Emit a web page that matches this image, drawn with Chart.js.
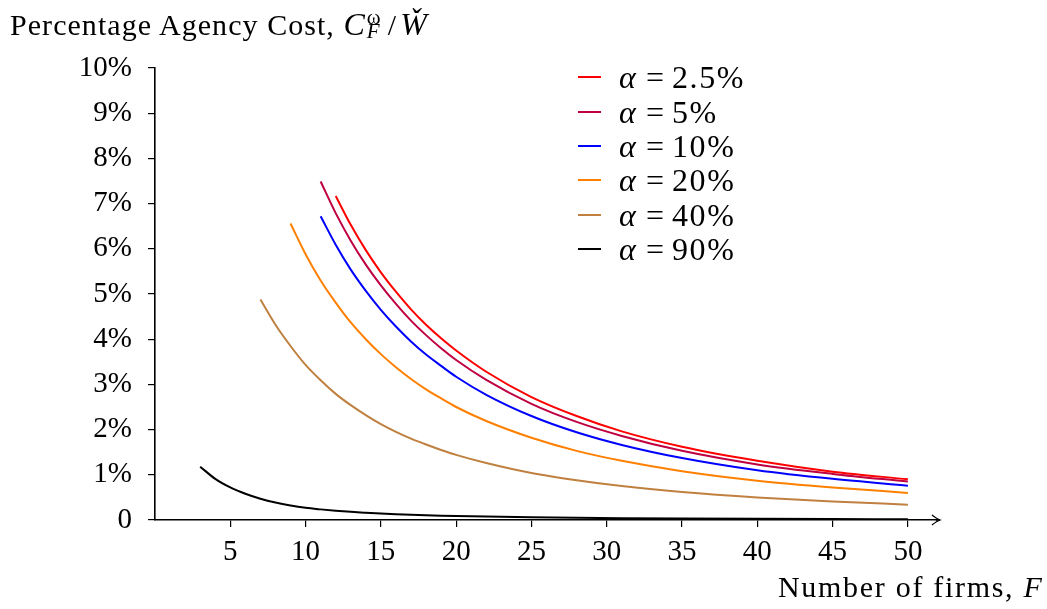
<!DOCTYPE html>
<html>
<head>
<meta charset="utf-8">
<script src="https://cdn.jsdelivr.net/npm/chart.js@4.4.1/dist/chart.umd.min.js"></script>
<style>
    body { margin: 0; background: #fff; }
    #wrap { position: relative; width: 1047px; height: 609px; font-family: "Liberation Serif", serif; color: #000; }
    #chart { position: absolute; left: 0; top: 0; }
    .txt { position: absolute; font-size: 30px; white-space: nowrap; line-height: 1; }
    .ss { display: inline-block; position: relative; width: 20px; height: 1px; }
    .ss span { position: absolute; left: 1px; font-size: 21px; line-height: 1; letter-spacing: 0; }
    .m { font-size: 32px; }
    #legend { position: absolute; left: 578px; top: 60px; }
    .row { height: 34.4px; display: flex; align-items: center; font-size: 32px; line-height: 1; }
    .swatch { width: 23px; height: 2px; margin-right: 18px; }
    .sym { display: inline-block; width: 27px; }
    .eq { display: inline-block; width: 26px; }
    .val { letter-spacing: 1.6px; }
</style>
</head>
<body>
<div id="wrap">
    <canvas id="chart" width="1047" height="609"></canvas>
    <div class="txt" id="yTitle" style="left:10px; top:8px; letter-spacing:1.05px;">Percentage Agency Cost, <i class="m">C</i><span class="ss"><span style="top:-27px">ω</span><span style="top:-13px"><i>F</i></span></span><span style="margin-left:2px">/</span><i class="m" style="margin-left:3px">W̌</i></div>
    <div class="txt" id="xTitle" style="left:778px; top:572px; letter-spacing:1.7px;">Number of firms, <i>F</i></div>
    <div id="legend"></div>
</div>
<script>
const xTicks = [5, 10, 15, 20, 25, 30, 35, 40, 45, 50];
const yTicks = [0, 1, 2, 3, 4, 5, 6, 7, 8, 9, 10];

// number of firms F (x values shared by all curves)
const firms = [3, 4, 5, 6, 7, 8, 9, 10, 11, 12, 13, 14, 15, 16, 17, 18, 19, 20, 22, 25, 28, 31, 35, 40, 45, 50];

// agency cost in % for each alpha, null where the curve is not drawn
const cost25 = [null, null, null, null, null, null, null, null, null,
    7.17, 6.53, 5.97, 5.48, 5.05, 4.66, 4.32, 4.02, 3.75, 3.28, 2.72, 2.30, 1.96, 1.62, 1.31, 1.07, 0.90];
const cost5 = [null, null, null, null, null, null, null, null,
    7.49, 6.79, 6.18, 5.65, 5.19, 4.78, 4.41, 4.09, 3.80, 3.54, 3.10, 2.57, 2.17, 1.86, 1.53, 1.23, 1.02, 0.85];
const cost10 = [null, null, null, null, null, null, null, null,
    6.72, 6.09, 5.54, 5.07, 4.65, 4.28, 3.95, 3.66, 3.41, 3.17, 2.77, 2.30, 1.94, 1.66, 1.37, 1.10, 0.91, 0.76];
const cost20 = [null, null, null, null, null, null,
    6.56, 5.88, 5.30, 4.81, 4.37, 4.00, 3.67, 3.38, 3.12, 2.89, 2.69, 2.50, 2.19, 1.82, 1.53, 1.31, 1.08, 0.87, 0.72, 0.60];
const cost40 = [null, null, null, null,
    4.88, 4.32, 3.85, 3.43, 3.09, 2.79, 2.54, 2.32, 2.12, 1.95, 1.80, 1.67, 1.55, 1.44, 1.26, 1.04, 0.88, 0.75, 0.62, 0.50, 0.41, 0.34];
const cost90 = [1.18, 0.91, 0.72, 0.58, 0.47, 0.385, 0.32, 0.27, 0.235, 0.205, 0.18, 0.16, 0.142, 0.128, 0.116, 0.105,
    0.096, 0.088, 0.075, 0.06, 0.049, 0.041, 0.033, 0.026, 0.021, 0.017];

const seriesLabels = ['2.5%', '5%', '10%', '20%', '40%', '90%'];
const seriesColors = ['#ff0000', '#bf0040', '#0000ff', '#ff8000', '#bf8040', '#000000'];
const seriesCost = [cost25, cost5, cost10, cost20, cost40, cost90];

const font = { family: '"Liberation Serif", serif', size: 29 };

// legend as html rows
const legend = document.getElementById('legend');
seriesLabels.forEach((lbl, i) => {
    const row = document.createElement('div');
    row.className = 'row';
    row.innerHTML = `<span class="swatch" style="background:${seriesColors[i]}"></span>` +
        `<span class="sym"><i>α</i></span><span class="eq">=</span><span class="val">${lbl}</span>`;
    legend.appendChild(row);
});

// arrow head at the end of the x axis
const axisArrow = {
    id: 'axisArrow',
    afterDraw(chart) {
        const ctx = chart.ctx;
        const x = chart.scales.x;
        const y0 = chart.chartArea.bottom;
        const tip = x.right + 2;
        ctx.save();
        ctx.strokeStyle = '#000';
        ctx.lineWidth = 1.6;
        ctx.beginPath();
        ctx.moveTo(x.right - 2, y0);
        ctx.lineTo(tip, y0);
        ctx.stroke();
        ctx.lineWidth = 1.3;
        ctx.beginPath();
        ctx.moveTo(tip - 8, y0 - 5);
        ctx.quadraticCurveTo(tip - 3, y0 - 1, tip, y0);
        ctx.quadraticCurveTo(tip - 3, y0 + 1, tip - 8, y0 + 5);
        ctx.stroke();
        ctx.restore();
    }
};

new Chart(document.getElementById('chart'), {
    type: 'line',
    data: {
        datasets: seriesLabels.map((lbl, i) => ({
            label: lbl,
            data: firms.map((f, j) => ({ x: f, y: seriesCost[i][j] })),
            borderColor: seriesColors[i],
            borderWidth: 2,
            pointRadius: 0,
            cubicInterpolationMode: 'monotone',
            spanGaps: false,
            fill: false
        }))
    },
    options: {
        responsive: false,
        animation: false,
        layout: { padding: { top: 68, right: 109, bottom: 0, left: 0 } },
        plugins: { legend: { display: false }, tooltip: { enabled: false } },
        scales: {
            x: {
                type: 'linear',
                min: 0,
                max: 52,
                afterFit(scale) { scale.height = 89; },
                afterBuildTicks(scale) { scale.ticks = xTicks.map(v => ({ value: v })); },
                border: { color: '#000', width: 1.6 },
                grid: { drawOnChartArea: false, drawTicks: true, tickLength: 7, color: '#000', lineWidth: 1.2 },
                ticks: { font: font, color: '#000', padding: 8, maxRotation: 0, callback: v => String(v) }
            },
            y: {
                type: 'linear',
                min: 0,
                max: 10,
                afterFit(scale) { scale.width = 155; },
                afterBuildTicks(scale) { scale.ticks = yTicks.map(v => ({ value: v })); },
                border: { color: '#000', width: 1.6 },
                grid: { drawOnChartArea: false, drawTicks: true, tickLength: 7, color: '#000', lineWidth: 1.2 },
                ticks: { font: font, color: '#000', padding: 16, callback: v => v === 0 ? '0' : v + '%' }
            }
        }
    },
    plugins: [axisArrow]
});
</script>
</body>
</html>
